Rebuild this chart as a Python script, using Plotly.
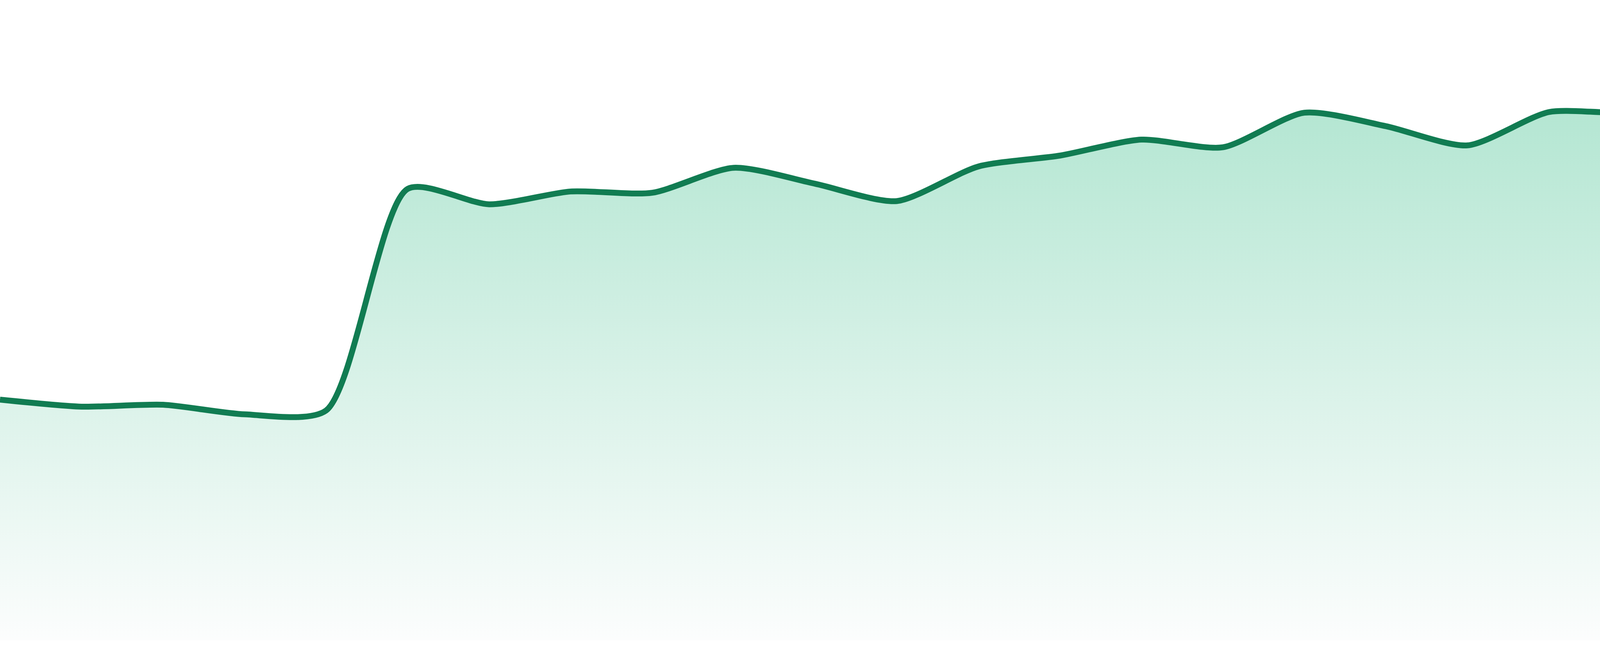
import plotly.graph_objects as go

# 24 evenly spaced samples, no axis labels in the source image
idx = list(range(24))
values = [37.6, 36.5, 36.8, 35.3, 35.9, 70.5, 68.1, 70.1, 69.9, 73.8, 71.3, 68.6,
          74.0, 75.7, 78.2, 77.0, 82.4, 80.3, 77.3, 82.5, 82.6, 87.6, 86.3, 86.5]

line_color = "#117c52"
fill_top = "rgb(176,229,208)"
fill_bottom = "rgb(252,253,253)"

fig = go.Figure()
fig.add_trace(go.Scatter(
    x=idx,
    y=values,
    mode="lines",
    line=dict(color=line_color, width=15, shape="spline", smoothing=0.7),
    fill="tozeroy",
    fillgradient=dict(
        type="vertical",
        colorscale=[[0, fill_bottom], [1, fill_top]],
        start=0,
        stop=max(values),
    ),
    hoverinfo="skip",
))

fig.update_layout(
    width=4800,
    height=1680,
    margin=dict(l=0, r=0, t=0, b=40),
    paper_bgcolor="white",
    plot_bgcolor="white",
    showlegend=False,
    xaxis=dict(range=[0, 23], visible=False, fixedrange=True),
    yaxis=dict(range=[0, 100], visible=False, fixedrange=True),
)

fig.write_html("out.html", config={"displayModeBar": False},
               post_script="document.body.style.margin='0';")
